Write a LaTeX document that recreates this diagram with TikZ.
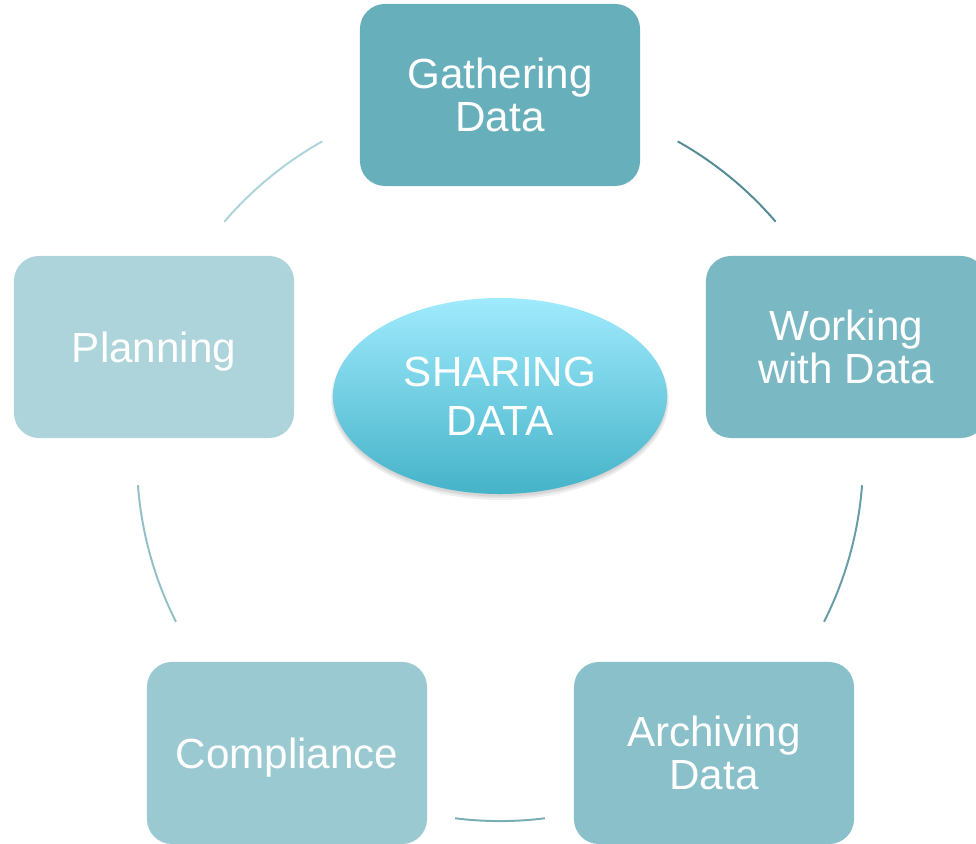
\documentclass[tikz,border=0pt]{standalone}
\usepackage{fontspec}
\setmainfont{Liberation Sans}
\usetikzlibrary{shapes.geometric,shadows}
\definecolor{gathercol}{HTML}{68AFBC}
\definecolor{workcol}{HTML}{7AB8C3}
\definecolor{archivecol}{HTML}{89C0CA}
\definecolor{compliancecol}{HTML}{9BC9D1}
\definecolor{plancol}{HTML}{ACD4DA}
\definecolor{hubtop}{HTML}{A0EAFD}
\definecolor{hubbottom}{HTML}{45B3C8}
\tikzstyle{stage}=[rectangle, rounded corners=0.625cm, minimum width=7cm, minimum height=4.55cm, inner sep=0pt, text=white, align=center, font=\fontsize{30}{31}\selectfont]
\tikzstyle{hub}=[ellipse, minimum width=8.35cm, minimum height=4.9cm, inner sep=0pt, text=white, align=center, font=\fontsize{30}{35}\selectfont, top color=hubtop, bottom color=hubbottom]
\tikzstyle{link}=[line width=1.4pt]

\begin{document}
\begin{tikzpicture}[x=0.025cm, y=0.025cm]
	\clip (0,0) rectangle (976,844);
	\coordinate (ctr) at (500,386);

	% the five stages
	\node[stage, fill=gathercol](gather) at (500,749){Gathering\\Data};
	\node[stage, fill=workcol](work) at (846,497){Working\\with Data};
	\node[stage, fill=archivecol](archive) at (714,91){Archiving\\Data};
	\node[stage, fill=compliancecol, text depth=0pt](compliance) at (287,91){Compliance};
	\node[stage, fill=plancol, text depth=0pt](plan) at (154,497){Planning};

	% arcs between them
	\draw[link, color=gathercol!80!black] (ctr) ++(60.7:9.075cm) arc[start angle=60.7, end angle=40.6, radius=9.075cm];
	\draw[link, color=workcol!85!black] (ctr) ++(-4.3:9.075cm) arc[start angle=-4.3, end angle=-26.8, radius=9.075cm];
	\draw[link, color=archivecol!90!black] (ctr) ++(-82.9:9.075cm) arc[start angle=-82.9, end angle=-97.1, radius=9.075cm];
	\draw[link, color=compliancecol!95!black] (ctr) ++(206.8:9.075cm) arc[start angle=206.8, end angle=184.3, radius=9.075cm];
	\draw[link, color=plancol] (ctr) ++(139.4:9.075cm) arc[start angle=139.4, end angle=119.3, radius=9.075cm];

	% soft shadow under the centre
	\fill[black, opacity=0.06] (500,444) ellipse (169 and 100);
	\fill[black, opacity=0.06] (500,445) ellipse (168 and 99);
	\fill[black, opacity=0.06] (500,446) ellipse (167 and 98.5);

	% centre
	\node[hub](share) at (500,448){SHARING\\DATA};
\end{tikzpicture}
\end{document}
